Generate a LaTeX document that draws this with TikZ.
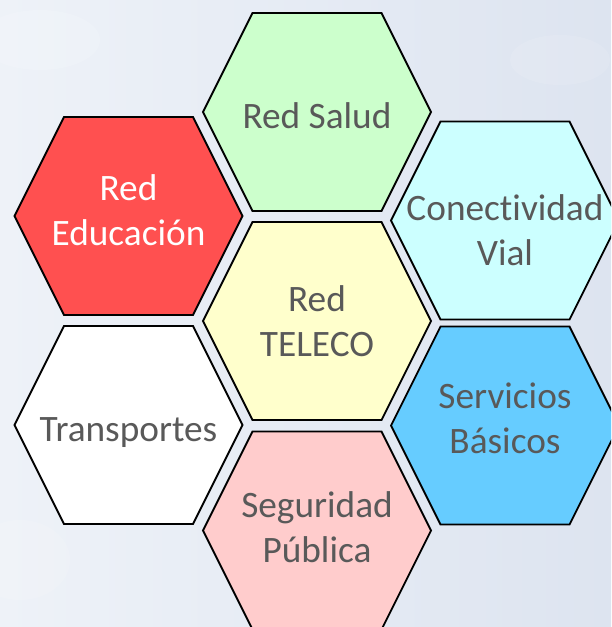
\documentclass[tikz,border=0pt]{standalone}
\usepackage{fontspec}
\setmainfont[Ligatures=NoCommon]{Carlito}
\definecolor{bgA}{HTML}{EEF2F8}
\definecolor{bgB}{HTML}{DDE4F0}
\definecolor{txtgray}{HTML}{595959}
\definecolor{hexgreen}{HTML}{CCFFCC}
\definecolor{hexred}{HTML}{FF5050}
\definecolor{hexcyan}{HTML}{CCFFFF}
\definecolor{hexyellow}{HTML}{FFFFCC}
\definecolor{hexblue}{HTML}{66CCFF}
\definecolor{hexpink}{HTML}{FFCCCC}
\tikzset{
  hexline/.style={draw=black, line width=1.8pt, line join=miter},
  hextext/.style={align=center, inner sep=0pt, anchor=base, font=\fontsize{37.3}{44.5}\selectfont},
}
% #1 name, #2 x, #3 y (hexagon centre), #4 fill, #5 text colour, #6 last baseline y, #7 text
\newcommand\hexcell[7]{%
  \draw[hexline, fill=#4] (#2-114,#3) -- (#2-64.5,#3-99) -- (#2+64.5,#3-99)
     -- (#2+114,#3) -- (#2+64.5,#3+99) -- (#2-64.5,#3+99) -- cycle;
  \node[hextext, text=#5] (#1) at (#2,#6) {#7};
}
\begin{document}
\begin{tikzpicture}[x=1pt, y=-1pt]
\useasboundingbox (0,0) rectangle (611,627);
\clip (0,0) rectangle (611,627);
\shade[left color=bgA, right color=bgB] (0,0) rectangle (611,627);
\fill[white, opacity=0.15] (40,40) ellipse (60 and 30);
\fill[white, opacity=0.12] (20,560) ellipse (50 and 40);
\fill[white, opacity=0.1] (560,60) ellipse (50 and 25);
\hexcell{salud}{317}{112}{hexgreen}{txtgray}{128}{Red Salud}
\hexcell{educ}{128.5}{216}{hexred}{white}{245}{Red\\Educación}
\hexcell{vial}{505}{220.5}{hexcyan}{txtgray}{265}{Conectividad\\Vial}
\hexcell{teleco}{317}{321}{hexyellow}{txtgray}{356}{Red\\TELECO}
\hexcell{transp}{128.5}{425}{white}{txtgray}{441.5}{Transportes}
\hexcell{serv}{505}{425.5}{hexblue}{txtgray}{453}{Servicios\\Básicos}
\hexcell{segur}{317}{530.5}{hexpink}{txtgray}{562}{Seguridad\\Pública}
\end{tikzpicture}
\end{document}
